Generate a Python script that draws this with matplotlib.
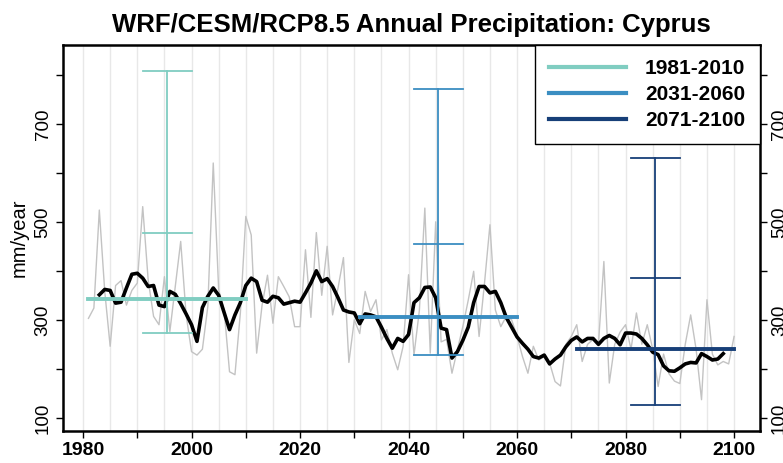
import matplotlib
matplotlib.use("Agg")
import matplotlib.pyplot as plt
import numpy as np

plt.rcParams["font.family"] = ["Liberation Sans", "DejaVu Sans"]

# annual precipitation (mm/year), 1981-2100
years = list(range(1981, 2101))
annual = [
    303, 324, 524, 358, 246, 370, 380, 330, 360, 375,
    531, 382, 307, 290, 388, 276, 368, 460, 310, 235,
    228, 240, 327, 620, 361, 320, 194, 188, 314, 511,
    473, 232, 330, 391, 293, 388, 368, 347, 286, 286,
    443, 305, 478, 350, 450, 310, 365, 427, 213, 300,
    272, 358, 317, 341, 259, 280, 232, 198, 246, 392,
    228, 320, 528, 232, 500, 255, 260, 191, 239, 286,
    340, 399, 266, 375, 494, 320, 286, 307, 300, 266,
    225, 191, 246, 218, 225, 212, 174, 165, 250, 266,
    290, 215, 250, 260, 250, 419, 171, 250, 275, 290,
    240, 314, 250, 290, 240, 164, 230, 190, 175, 170,
    250, 310, 240, 137, 341, 230, 208, 215, 210, 266,
]

# smoothed curve (black), 1983-2098
smooth_years = list(range(1983, 2099))
smooth = [
    351, 362, 360, 334, 336, 365, 393, 395, 385, 368,
    370, 330, 327, 358, 352, 333, 312, 290, 256, 325,
    348, 365, 350, 315, 280, 310, 335, 370, 385, 378,
    340, 336, 348, 345, 332, 335, 338, 336, 355, 375,
    400, 378, 384, 368, 345, 320, 316, 314, 292, 312,
    310, 306, 285, 262, 242, 262, 256, 270, 335, 345,
    366, 367, 345, 283, 280, 222, 235, 258, 285, 335,
    368, 368, 355, 358, 335, 305, 285, 265, 252, 240,
    225, 222, 228, 210, 220, 228, 245, 258, 265, 255,
    262, 262, 250, 262, 268, 262, 249, 273, 273, 271,
    262, 249, 234, 229, 206, 196, 195, 202, 210, 213,
    212, 231, 225, 218, 220, 231,
]

# period statistics
periods = ["1981-2010", "2031-2060", "2071-2100"]
period_start = [1981, 2031, 2071]
period_end = [2010, 2060, 2100]
period_mean = [343, 305, 240]
bar_low = [273, 228, 126]
bar_mid = [478, 455, 386]
bar_high = [808, 771, 630]
colors = ["#80cdc1", "#3b8ec2", "#173f78"]

fig = plt.figure(figsize=(7.83, 4.63), dpi=100)
ax = fig.add_axes([0.080, 0.069, 0.8905, 0.834])

for g in range(1980, 2101, 5):
    ax.axvline(g, color="#e8e8e8", lw=1.0, zorder=0)

ax.plot(years, annual, color="#c3c3c3", lw=1.0, zorder=1)
ax.plot(smooth_years, smooth, color="black", lw=2.6, zorder=2)

for i, name in enumerate(periods):
    mid = (period_start[i] + period_end[i]) / 2
    c = colors[i]
    ax.plot([mid, mid], [bar_low[i], bar_high[i]], color=c, lw=1.3, zorder=3)
    for v in (bar_low[i], bar_mid[i], bar_high[i]):
        ax.plot([mid - 4.5, mid + 4.5], [v, v], color=c, lw=1.3, zorder=3)
    ax.plot([period_start[i], period_end[i]], [period_mean[i]] * 2,
            color=c, lw=2.8, zorder=4, label=name)

ax.set_xlim(1976.24, 2104.76)
ax.set_ylim(73, 861)

ax.set_xticks(list(range(1980, 2101, 10)))
ax.set_xticklabels([str(y) if y % 20 == 0 else "" for y in range(1980, 2101, 10)],
                   fontweight="bold", fontsize=14)
yt = list(range(100, 801, 100))
ax.set_yticks(yt)
ax.set_yticklabels([str(v) if v % 200 == 100 else "" for v in yt],
                   rotation=90, va="center", fontsize=13.5)
ax.tick_params(axis="y", right=True, labelright=True, length=5, width=1, pad=3)
ax.tick_params(axis="x", length=5, width=1, pad=3)
for lab in ax.get_yticklabels(which="both"):
    lab.set_rotation(90)
    lab.set_va("center")

for s in ax.spines.values():
    s.set_linewidth(1.8)

ax.set_ylabel("mm/year", fontsize=14.5, labelpad=4)
ax.set_title("WRF/CESM/RCP8.5 Annual Precipitation: Cyprus",
             fontsize=18.5, fontweight="bold", pad=9)

leg = ax.legend(loc="upper right", bbox_to_anchor=(1.0, 1.0), borderaxespad=0,
                frameon=True, fancybox=False, handlelength=3.7, handletextpad=0.9,
                labelspacing=0.32, borderpad=0.7, prop={"weight": "bold", "size": 15})
leg.get_frame().set_edgecolor("black")
leg.get_frame().set_linewidth(1.0)
leg.get_frame().set_alpha(1)
for h in leg.get_lines():
    h.set_linewidth(3)

fig.savefig("out.png", dpi=100)
